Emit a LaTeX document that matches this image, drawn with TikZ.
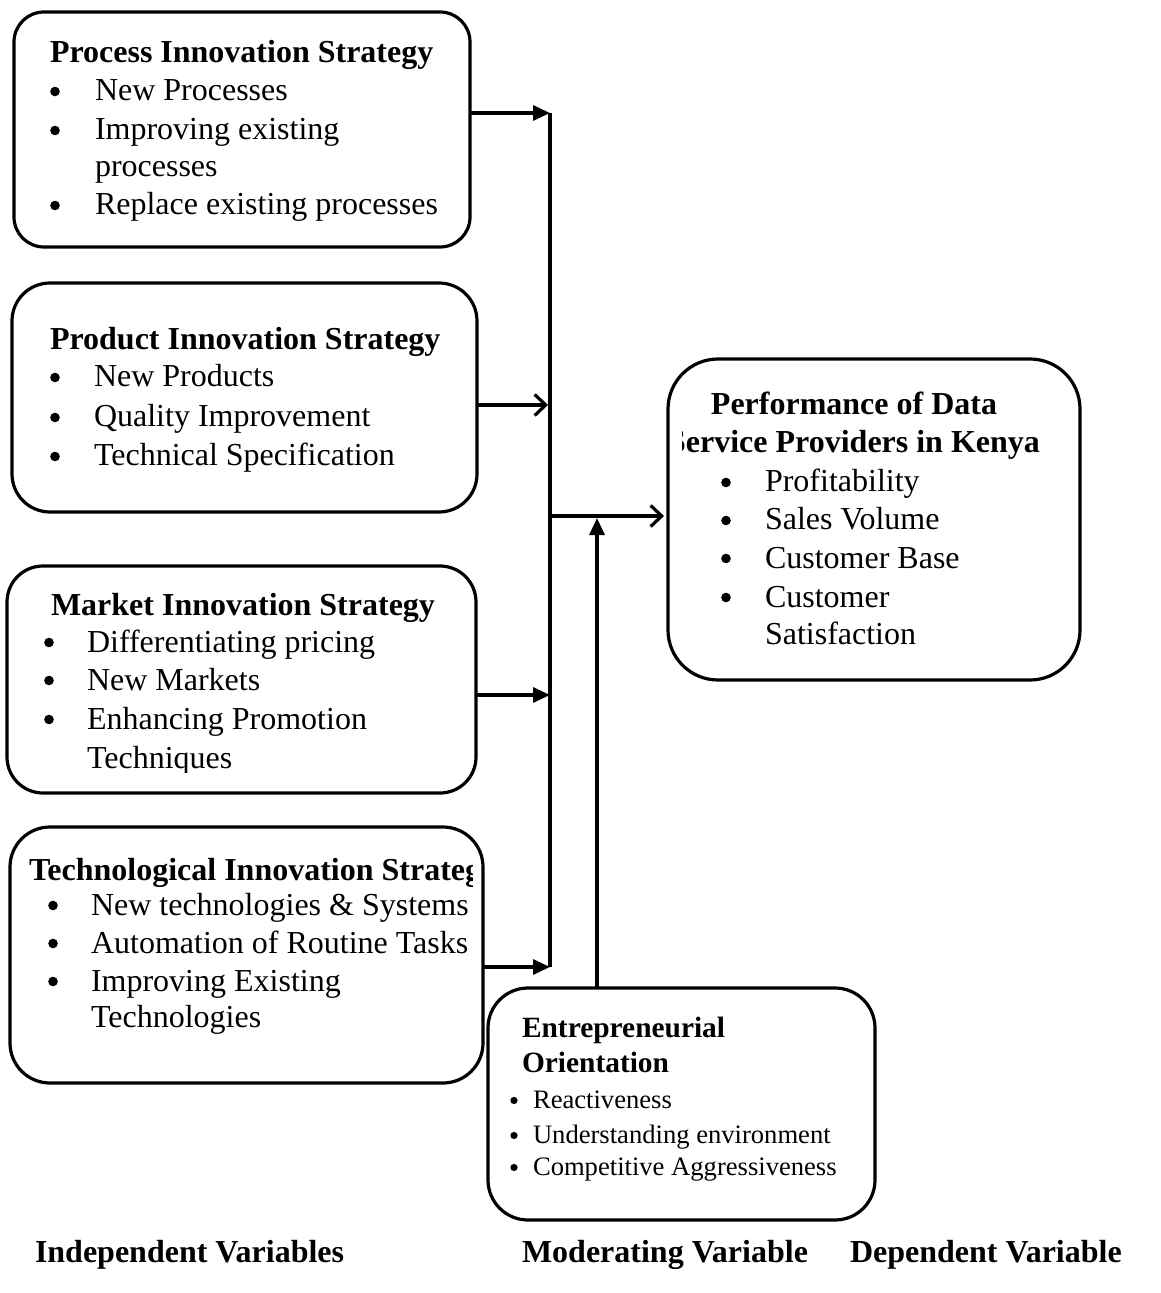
\documentclass[tikz,border=0pt]{standalone}
\usepackage{fontspec}
\setmainfont{Liberation Serif}
\usetikzlibrary{arrows.meta}

\tikzset{
  box/.style={draw, line width=1.6pt, rounded corners=#1, inner sep=0pt, outer sep=0pt},
  txt/.style={anchor=base west, inner sep=0pt, outer sep=0pt, font=\fontsize{16pt}{19pt}\selectfont},
  ttl/.style={txt, font=\fontsize{16pt}{19pt}\selectfont\bfseries},
  ctr/.style={ttl, anchor=base},
  dot/.style={circle, fill, inner sep=0pt, outer sep=0pt, minimum size=4.8pt},
  smalldot/.style={dot, minimum size=3.6pt},
  smalltxt/.style={txt, font=\fontsize{13.3pt}{16pt}\selectfont},
  smallttl/.style={txt, font=\fontsize{14.7pt}{17pt}\selectfont\bfseries},
  link/.style={line width=1.6pt},
  solidtip/.style={link, -{Triangle[length=8.5pt,width=7.5pt]}},
  opentip/.style={link, -{Straight Barb[length=5.5pt,width=10.5pt]}},
}

% one bulleted line: name, bullet x, text x, baseline y, text
\newcommand\bulletrow[5]{%
  \node[dot] (#1b) at (#2,#4-9.5) {};
  \node[txt] (#1t) at (#3,#4) {#5};}
% the same in the smaller size
\newcommand\smallrow[5]{%
  \node[smalldot] (#1b) at (#2,#4-7.5) {};
  \node[smalltxt] (#1t) at (#3,#4) {#5};}

\begin{document}
\begin{tikzpicture}[x=0.5pt, y=-0.5pt]
\fill[white] (0,0) rectangle (1160,1293);
\useasboundingbox (0,0) rectangle (1160,1293);

% ---- boxes
\node[box=15pt, minimum width=228pt,   minimum height=117.5pt] (b1) at (242,129.5) {};
\node[box=19pt, minimum width=232.5pt, minimum height=114.5pt] (b2) at (244.5,397.5) {};
\node[box=18pt, minimum width=234.5pt, minimum height=113.5pt] (b3) at (241.5,679.5) {};
\node[box=20pt, minimum width=236.5pt, minimum height=128pt]   (b4) at (246.5,955) {};
\node[box=25pt, minimum width=206pt,   minimum height=160.5pt] (b5) at (874,519.5) {};
\node[box=20pt, minimum width=193.5pt, minimum height=116pt]   (b6) at (681.5,1104) {};

% ---- process innovation
\node[ttl] (p0) at (50,63) {Process Innovation Strategy};
\bulletrow{p1}{55}{95}{101}{New Processes}
\bulletrow{p2}{55}{95}{140}{Improving existing}
\node[txt] (p2c) at (95,177) {processes};
\bulletrow{p3}{55}{95}{215}{Replace existing processes}

% ---- product innovation
\node[ttl] (q0) at (50,350) {Product Innovation Strategy};
\bulletrow{q1}{55}{94}{387}{New Products}
\bulletrow{q2}{55}{94}{427}{Quality Improvement}
\bulletrow{q3}{55}{94}{466}{Technical Specification}

% ---- market innovation
\node[ttl] (m0) at (51,615) {Market Innovation Strategy};
\bulletrow{m1}{49}{87}{652}{Differentiating pricing}
\bulletrow{m2}{49}{87}{690}{New Markets}
\bulletrow{m3}{49}{87}{729}{Enhancing Promotion}
\begin{scope}
  \clip (0,740) rectangle (470,772);
  \node[txt] (m3c) at (87,768) {Techniques};
\end{scope}

% ---- technological innovation
\begin{scope}
  \clip (20,840) rectangle (472,900);
  \node[ttl] (t0) at (29,880) {Technological Innovation Strategy};
\end{scope}
\bulletrow{t1}{53}{91}{915}{New technologies \& Systems}
\bulletrow{t2}{53}{91}{953}{Automation of Routine Tasks}
\bulletrow{t3}{53}{91}{991}{Improving Existing}
\node[txt] (t3c) at (91,1027) {Technologies};

% ---- performance
\node[ctr] (d0) at (854,415) {Performance of Data};
\begin{scope}
  \clip (682,420) rectangle (1070,465);
  \node[ctr] (d0b) at (854,453) {Service Providers in Kenya};
\end{scope}
\bulletrow{d1}{726}{765}{492}{Profitability}
\bulletrow{d2}{726}{765}{530}{Sales Volume}
\bulletrow{d3}{726}{765}{568}{Customer Base}
\bulletrow{d4}{726}{765}{607}{Customer}
\node[txt] (d4c) at (765,644) {Satisfaction};

% ---- entrepreneurial orientation
\node[smallttl] (e0) at (522,1037) {Entrepreneurial};
\node[smallttl] (e0b) at (522,1072) {Orientation};
\smallrow{e1}{514}{533}{1108}{Reactiveness}
\smallrow{e2}{514}{533}{1143}{Understanding environment}
\smallrow{e3}{514}{533}{1175}{Competitive Aggressiveness}

% ---- connectors
\coordinate (j1) at (550,113);
\coordinate (j2) at (548,405);
\coordinate (j3) at (550,695);
\coordinate (j4) at (550,967);
\coordinate (jm) at (550,516);
\coordinate (jo) at (597,518);
\draw[link] (j1) -- (j4);
\draw[solidtip] (b1.east |- j1) -- (j1);
\draw[opentip]  (b2.east |- j2) -- (j2);
\draw[solidtip] (b3.east |- j3) -- (j3);
\draw[solidtip] (b4.east |- j4) -- (j4);
\draw[opentip]  (jm) -- ([xshift=-2pt]b5.west |- jm);
\draw[solidtip] (b6.north -| jo) -- (jo);

% ---- column captions
\node[ttl] (c1) at (35,1262) {Independent Variables};
\node[ttl] (c2) at (522,1262) {Moderating Variable};
\node[ttl] (c3) at (850,1262) {Dependent Variable};
\end{tikzpicture}
\end{document}
